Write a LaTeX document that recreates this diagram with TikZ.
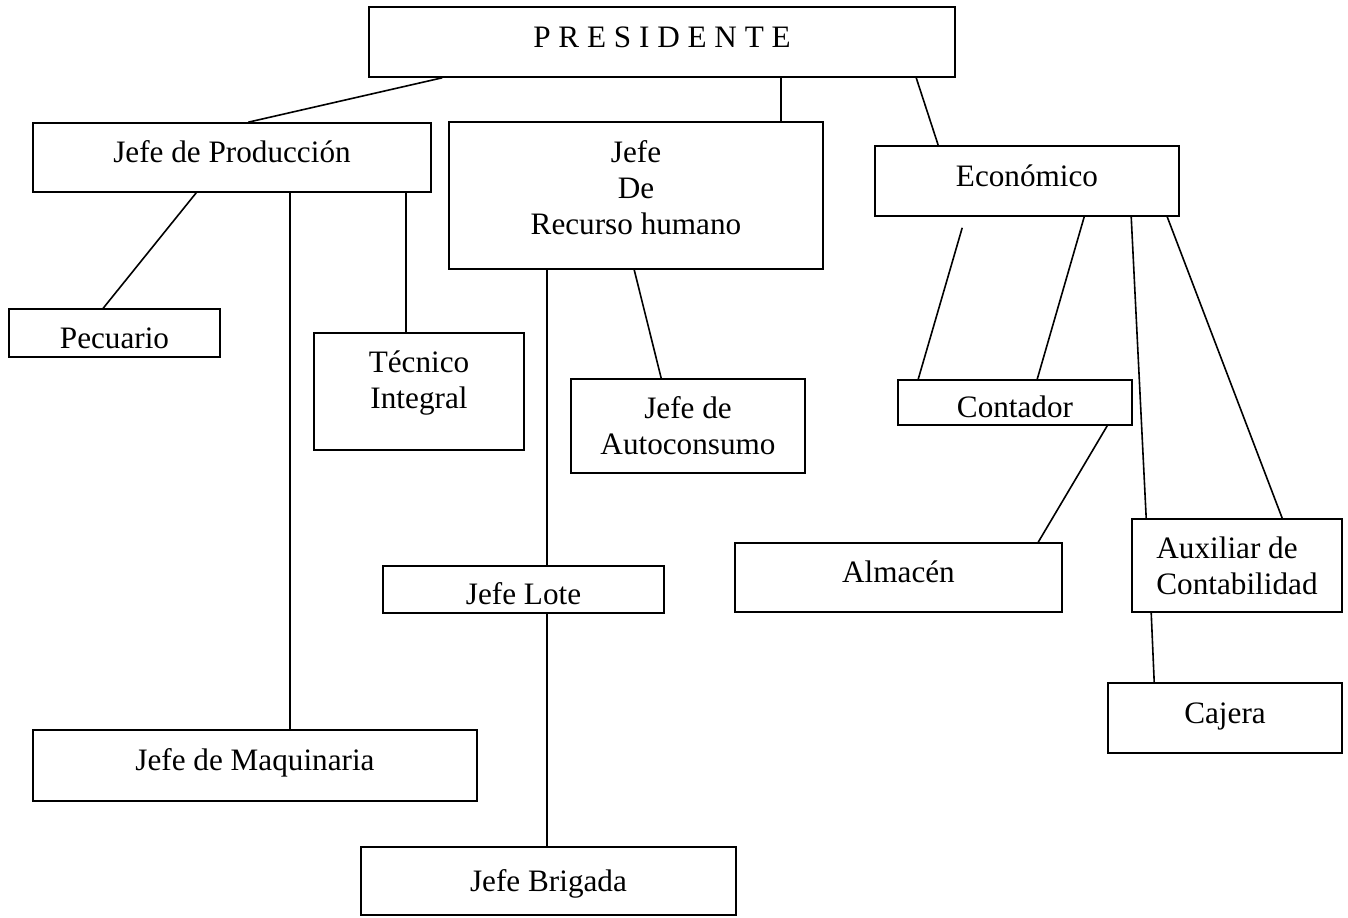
\documentclass[tikz,border=0pt]{standalone}
\usepackage{fontspec}
\setmainfont{Liberation Serif}
\usetikzlibrary{calc}
\tikzset{
	caja/.style={draw, line width=0.8pt, inner sep=0pt, align=center, font=\fontsize{15.6}{18}\selectfont},
	arriba/.style={text height=11pt, text depth=5.7pt},
	abajo/.style={text height=15.3pt, text depth=0pt},
	medio/.style={text height=11pt, text depth=0.7pt},
	linea/.style={line width=0.8pt}
}

\begin{document}
\begin{tikzpicture}[x=0.5pt,y=-0.5pt]
			%%%%% START %%%%%
			\useasboundingbox (0,0) rectangle (1348,917);
			
			\node[caja, arriba, minimum width=293pt, minimum height=35pt] (pres) at (662,42) {P R E S I D E N T E};
			
			\node[caja, arriba, minimum width=199pt, minimum height=34.5pt] (jdp) at (232,157.5) {Jefe de Producción};
			\node[caja, text depth=7.5pt, minimum width=187pt, minimum height=73.5pt] (rh) at (636,195.5) {Jefe\\De\\Recurso humano};
			\node[caja, arriba, minimum width=152pt, minimum height=35pt] (eco) at (1027,181) {Económico};
			
			\node[caja, abajo, minimum width=105.5pt, minimum height=24pt] (pec) at (114.5,333) {Pecuario};
			\node[caja, text depth=12pt, minimum width=105pt, minimum height=58.5pt] (tec) at (419,391.5) {Técnico\\Integral};
			\node[caja, arriba, minimum width=222pt, minimum height=35.5pt] (maq) at (255,765.5) {Jefe de Maquinaria};
			
			\node[caja, minimum width=117pt, minimum height=47pt] (auto) at (688,426) {Jefe de\\Autoconsumo};
			\node[caja, abajo, minimum width=140.5pt, minimum height=23.5pt] (lote) at (523.5,589.5) {Jefe Lote};
			\node[caja, medio, minimum width=187.5pt, minimum height=34pt] (brig) at (548.5,881) {Jefe Brigada};
			
			\node[caja, abajo, minimum width=117pt, minimum height=22.5pt] (cont) at (1015,402.5) {Contador};
			\node[caja, arriba, minimum width=163.5pt, minimum height=34.5pt] (alm) at (898.5,577.5) {Almacén};
			\node[caja, align=left, minimum width=105pt, minimum height=46.5pt] (aux) at (1237,565.5) {Auxiliar de\\Contabilidad};
			\node[caja, arriba, minimum width=117pt, minimum height=35pt] (caj) at (1225,718) {Cajera};
			
			% presidente
			\draw[linea] ($(pres.south west)+(74,0)$) -- ($(jdp.north west)+(216,0)$);
			\draw[linea] ($(pres.south west)+(413,0)$) -- ($(rh.north west)+(333,0)$);
			\draw[linea] ($(pres.south west)+(548,0)$) -- ($(eco.north west)+(64,0)$);
			
			% produccion
			\draw[linea] ($(jdp.south west)+(164,0)$) -- ($(pec.north west)+(95,0)$);
			\draw[linea] ($(jdp.south west)+(258,0)$) -- ($(maq.north west)+(258,0)$);
			\draw[linea] ($(jdp.south west)+(374,0)$) -- ($(tec.north west)+(93,0)$);
			
			% recurso humano
			\draw[linea] ($(rh.south west)+(99,0)$) -- ($(lote.north west)+(165,0)$);
			\draw[linea] ($(rh.south west)+(186,0)$) -- ($(auto.north west)+(91,0)$);
			\draw[linea] ($(lote.south west)+(165,0)$) -- ($(brig.north west)+(187,0)$);
			
			% economico
			\draw[linea] ($(eco.south west)+(88,11)$) -- ($(cont.north west)+(21,0)$);
			\draw[linea] ($(eco.south west)+(210,0)$) -- ($(cont.north west)+(140,0)$);
			\draw[linea] ($(eco.south west)+(257,0)$) -- ($(aux.north west)+(15,0)$);
			\draw[linea] ($(eco.south west)+(293,0)$) -- ($(aux.north west)+(151,0)$);
			\draw[linea] ($(cont.south west)+(210,0)$) -- ($(alm.north west)+(304,0)$);
			\draw[linea] ($(aux.south west)+(20,0)$) -- ($(caj.north west)+(47,0)$);
			%%%%% END %%%%%
\end{tikzpicture}
\end{document}
